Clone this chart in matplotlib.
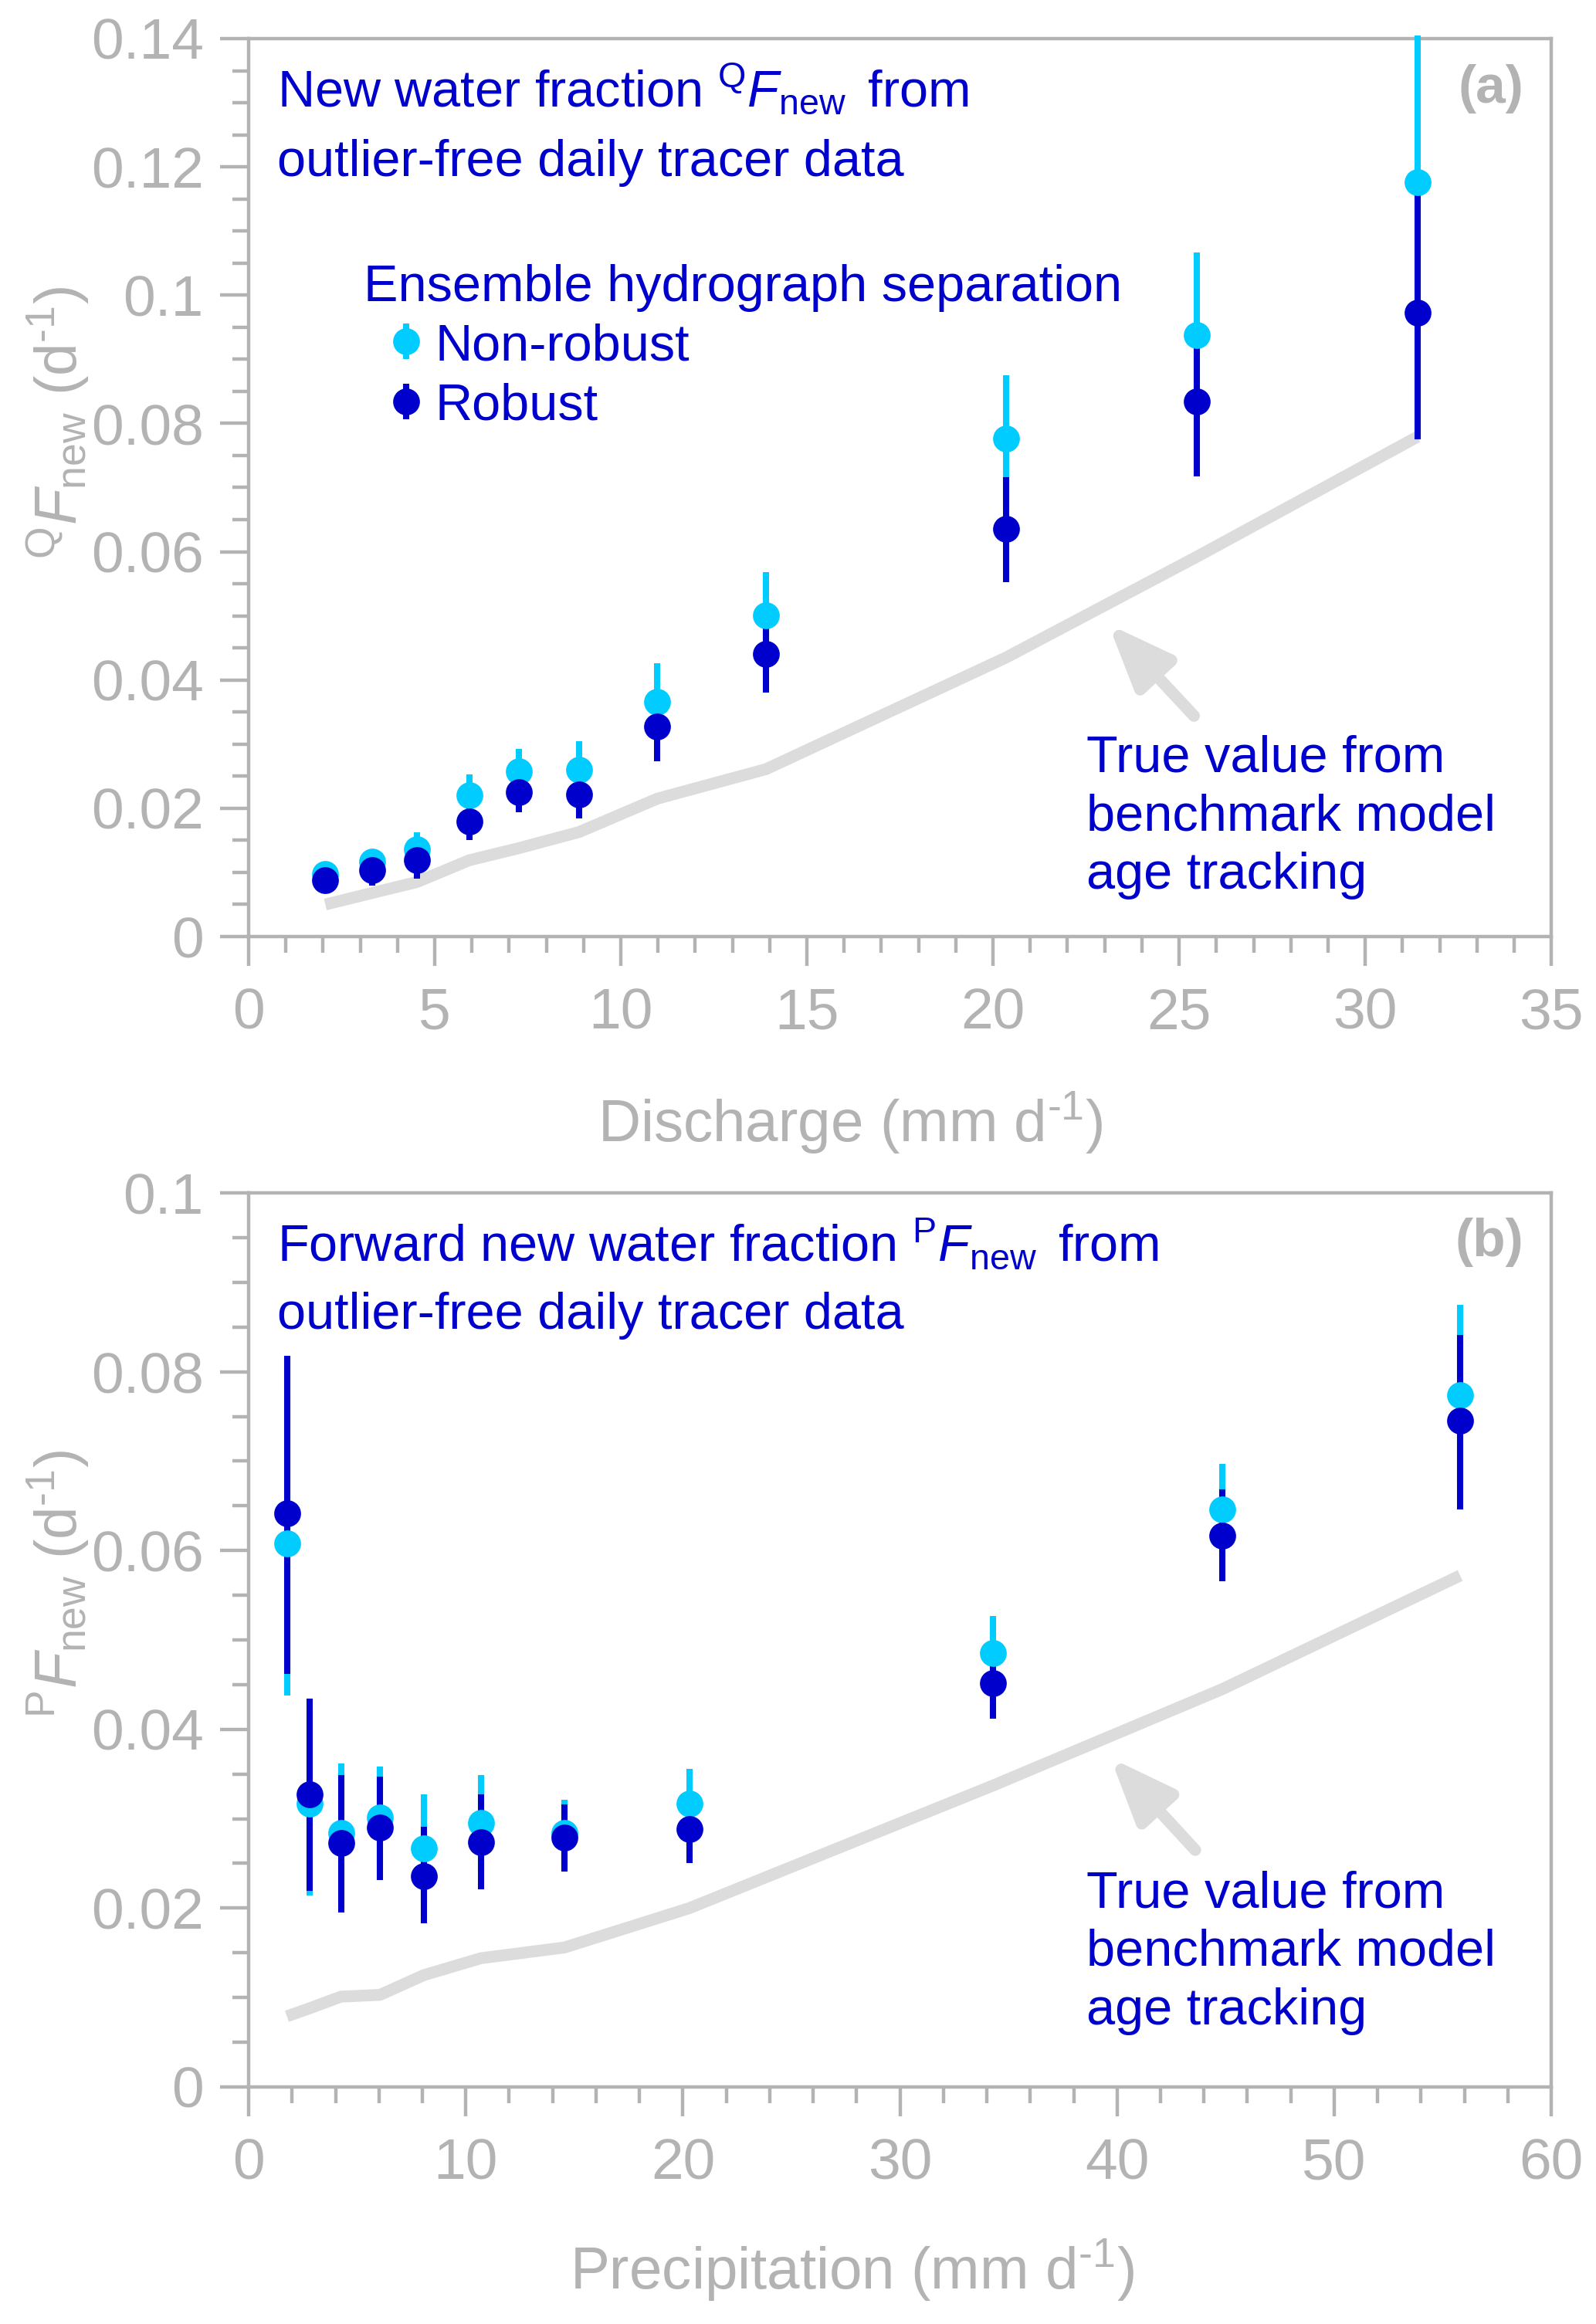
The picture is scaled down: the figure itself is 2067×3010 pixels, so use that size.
import matplotlib
matplotlib.use("Agg")
import matplotlib.pyplot as plt
from matplotlib.ticker import MultipleLocator, FuncFormatter

# =====================================================
# Data
# =====================================================
# (a) new water fraction vs discharge
q_x = [2.06, 3.32, 4.52, 5.93, 7.27, 8.88, 10.98, 13.9, 20.35, 25.47, 31.4]
q_nonrob = [0.0098, 0.0117, 0.0136, 0.0220, 0.0258, 0.0260, 0.0366, 0.0501, 0.0777, 0.0938, 0.1176]
q_nonrob_hi = [0.0109, 0.0131, 0.0163, 0.0253, 0.0292, 0.0304, 0.0426, 0.0568, 0.0875, 0.1066, 0.1405]
q_nonrob_lo = [0.0087, 0.0103, 0.0109, 0.0187, 0.0224, 0.0216, 0.0306, 0.0434, 0.0679, 0.0810, 0.0947]
q_rob = [0.0088, 0.0103, 0.0119, 0.0179, 0.0225, 0.0222, 0.0328, 0.0441, 0.0635, 0.0834, 0.0973]
q_rob_hi = [0.0103, 0.0117, 0.0136, 0.0213, 0.0256, 0.0256, 0.0366, 0.0501, 0.0716, 0.0942, 0.1176]
q_rob_lo = [0.0067, 0.0079, 0.0090, 0.0151, 0.0194, 0.0184, 0.0273, 0.0381, 0.0552, 0.0717, 0.0775]
q_true = [0.0050, 0.0068, 0.0085, 0.0119, 0.0138, 0.0163, 0.0215, 0.0261, 0.0435, 0.0592, 0.0779]

# (b) forward new water fraction vs precipitation
p_x = [1.76, 2.81, 4.25, 6.05, 8.06, 10.7, 14.55, 20.3, 34.27, 44.85, 55.8]
p_nonrob = [0.0608, 0.0317, 0.0284, 0.0301, 0.0267, 0.0295, 0.0284, 0.0317, 0.0485, 0.0646, 0.0774]
p_nonrob_hi = [0.0778, 0.0420, 0.0362, 0.0358, 0.0327, 0.0349, 0.0321, 0.0356, 0.0527, 0.0697, 0.0875]
p_nonrob_lo = [0.0438, 0.0214, 0.0206, 0.0244, 0.0207, 0.0241, 0.0247, 0.0278, 0.0443, 0.0595, 0.0673]
p_rob = [0.0642, 0.0327, 0.0273, 0.0290, 0.0236, 0.0274, 0.0279, 0.0288, 0.0452, 0.0617, 0.0745]
p_rob_hi = [0.0818, 0.0434, 0.0349, 0.0347, 0.0291, 0.0327, 0.0316, 0.0315, 0.0493, 0.0668, 0.0841]
p_rob_lo = [0.0462, 0.0219, 0.0195, 0.0231, 0.0183, 0.0221, 0.0241, 0.0250, 0.0412, 0.0566, 0.0646]
p_true = [0.0079, 0.0088, 0.0101, 0.0103, 0.0125, 0.0144, 0.0156, 0.0200, 0.0337, 0.0445, 0.0572]

# =====================================================
# Style
# =====================================================
plt.rcParams["font.family"] = ["Liberation Sans", "DejaVu Sans"]
plt.rcParams["mathtext.fontset"] = "custom"
plt.rcParams["mathtext.rm"] = "Liberation Sans"
plt.rcParams["mathtext.it"] = "Liberation Sans:italic"
plt.rcParams["mathtext.bf"] = "Liberation Sans:bold"

GREY = "#b3b3b3"
LINE_GREY = "#dcdcdc"
CYAN = "#00ccff"
DARK = "#0000cc"
TXT = "#0000cc"

TICK_FS = 54
LABEL_FS = 55
NOTE_FS = 48
MS = 25
ELW = 5.8


def draw_points(ax, x, y, lo, hi, y2, lo2, hi2):
    # error bars first, cyan under dark, then markers on top
    e1 = ax.errorbar(x, y, yerr=[[a - b for a, b in zip(y, lo)], [b - a for a, b in zip(y, hi)]],
                     fmt="none", ecolor=CYAN, elinewidth=ELW, capsize=0, zorder=3)
    e2 = ax.errorbar(x, y2, yerr=[[a - b for a, b in zip(y2, lo2)], [b - a for a, b in zip(y2, hi2)]],
                     fmt="none", ecolor=DARK, elinewidth=ELW, capsize=0, zorder=4)
    for e in (e1, e2):
        for col in e.lines[2]:
            col.set_clip_on(False)
    ax.plot(x, y, "o", color=CYAN, ms=MS, mew=0, zorder=5, clip_on=False)
    ax.plot(x, y2, "o", color=DARK, ms=MS, mew=0, zorder=6, clip_on=False)


def style_axes(ax, xmax, ymax, xmaj, xmin, ymaj, ymin):
    ax.set_xlim(0, xmax)
    ax.set_ylim(0, ymax)
    ax.xaxis.set_major_locator(MultipleLocator(xmaj))
    ax.xaxis.set_minor_locator(MultipleLocator(xmin))
    ax.yaxis.set_major_locator(MultipleLocator(ymaj))
    ax.yaxis.set_minor_locator(MultipleLocator(ymin))
    ax.yaxis.set_major_formatter(FuncFormatter(lambda v, p: "%g" % round(v, 4)))
    ax.xaxis.set_major_formatter(FuncFormatter(lambda v, p: "%g" % v))
    for s in ax.spines.values():
        s.set_color(GREY)
        s.set_linewidth(3.2)
    ax.tick_params(which="both", direction="out", color=GREY, width=3.2,
                   labelcolor=GREY, labelsize=TICK_FS, top=False, right=False)
    ax.tick_params(which="major", length=27)
    ax.tick_params(which="minor", length=15)
    ax.tick_params(axis="x", which="major", pad=20)
    ax.tick_params(axis="y", which="major", pad=15)


def true_note(ax, x0, y0, tail, tip):
    for i, line in enumerate(["True value from", "benchmark model", "age tracking"]):
        ax.text(x0, y0 - i * 0.0654, line, transform=ax.transAxes, fontsize=NOTE_FS,
                color=TXT, ha="left", va="baseline")
    ax.annotate("", xy=tip, xytext=tail,
                arrowprops=dict(arrowstyle="-|>,head_length=5.0,head_width=2.0",
                                color=LINE_GREY, lw=11, mutation_scale=10,
                                shrinkA=0, shrinkB=0), zorder=2)


fig = plt.figure(figsize=(20.67, 30.10), dpi=100)
ax1 = fig.add_axes([0.1558, 0.5970, 0.8162, 0.3864])
ax2 = fig.add_axes([0.1558, 0.1020, 0.8162, 0.3847])

# =====================================================
# Panel (a)
# =====================================================
ax1.plot(q_x, q_true, color=LINE_GREY, lw=11, solid_capstyle="butt", zorder=2)
draw_points(ax1, q_x, q_nonrob, q_nonrob_lo, q_nonrob_hi, q_rob, q_rob_lo, q_rob_hi)
style_axes(ax1, 35, 0.14, 5, 1, 0.02, 0.005)

ax1.text(0.022, 0.924, r"New water fraction $^{\mathrm{Q}}\mathit{F}_{\mathrm{new}}\,$ from",
         transform=ax1.transAxes, fontsize=NOTE_FS, color=TXT, va="baseline")
ax1.text(0.022, 0.847, "outlier-free daily tracer data",
         transform=ax1.transAxes, fontsize=NOTE_FS, color=TXT, va="baseline")
ax1.text(0.979, 0.972, "(a)", transform=ax1.transAxes, fontsize=50,
         fontweight="bold", color=GREY, ha="right", va="top")

# legend, drawn by hand
ax1.text(0.088, 0.708, "Ensemble hydrograph separation", transform=ax1.transAxes,
         fontsize=NOTE_FS, color=TXT, va="baseline")
for col, ym, yt, name in [(CYAN, 0.663, 0.642, "Non-robust"), (DARK, 0.596, 0.576, "Robust")]:
    ax1.plot([0.121, 0.121], [ym - 0.0198, ym + 0.0198], color=col, lw=ELW,
             transform=ax1.transAxes, solid_capstyle="butt")
    ax1.plot([0.121], [ym], "o", color=col, ms=MS, mew=0, transform=ax1.transAxes)
    ax1.text(0.143, yt, name, transform=ax1.transAxes, fontsize=NOTE_FS,
             color=TXT, va="baseline")

true_note(ax1, 0.643, 0.184, (25.4, 0.0344), (23.1, 0.0487))

ax1.set_xlabel(r"Discharge (mm d$^{\text{-1}}$)", fontsize=LABEL_FS, color=GREY)
ax1.xaxis.set_label_coords(0.462, -0.171)
ax1.set_ylabel(r"$^{\mathrm{Q}}\mathit{F}_{\mathrm{new}}$ (d$^{\text{-1}}$)", fontsize=LABEL_FS, color=GREY)
ax1.yaxis.set_label_coords(-0.121, 0.572)

# =====================================================
# Panel (b)
# =====================================================
ax2.plot(p_x, p_true, color=LINE_GREY, lw=11, solid_capstyle="butt", zorder=2)
draw_points(ax2, p_x, p_nonrob, p_nonrob_lo, p_nonrob_hi, p_rob, p_rob_lo, p_rob_hi)
style_axes(ax2, 60, 0.1, 10, 2, 0.02, 0.005)

ax2.text(0.022, 0.924, r"Forward new water fraction $^{\mathrm{P}}\mathit{F}_{\mathrm{new}}\,$ from",
         transform=ax2.transAxes, fontsize=NOTE_FS, color=TXT, va="baseline")
ax2.text(0.022, 0.848, "outlier-free daily tracer data",
         transform=ax2.transAxes, fontsize=NOTE_FS, color=TXT, va="baseline")
ax2.text(0.979, 0.972, "(b)", transform=ax2.transAxes, fontsize=50,
         fontweight="bold", color=GREY, ha="right", va="top")

true_note(ax2, 0.643, 0.201, (43.6, 0.0265), (39.7, 0.0368))

ax2.set_xlabel(r"Precipitation (mm d$^{\text{-1}}$)", fontsize=LABEL_FS, color=GREY)
ax2.xaxis.set_label_coords(0.463, -0.168)
ax2.set_ylabel(r"$^{\mathrm{P}}\mathit{F}_{\mathrm{new}}$ (d$^{\text{-1}}$)", fontsize=LABEL_FS, color=GREY)
ax2.yaxis.set_label_coords(-0.121, 0.563)

fig.savefig("out.png", dpi=100)
plt.close(fig)
